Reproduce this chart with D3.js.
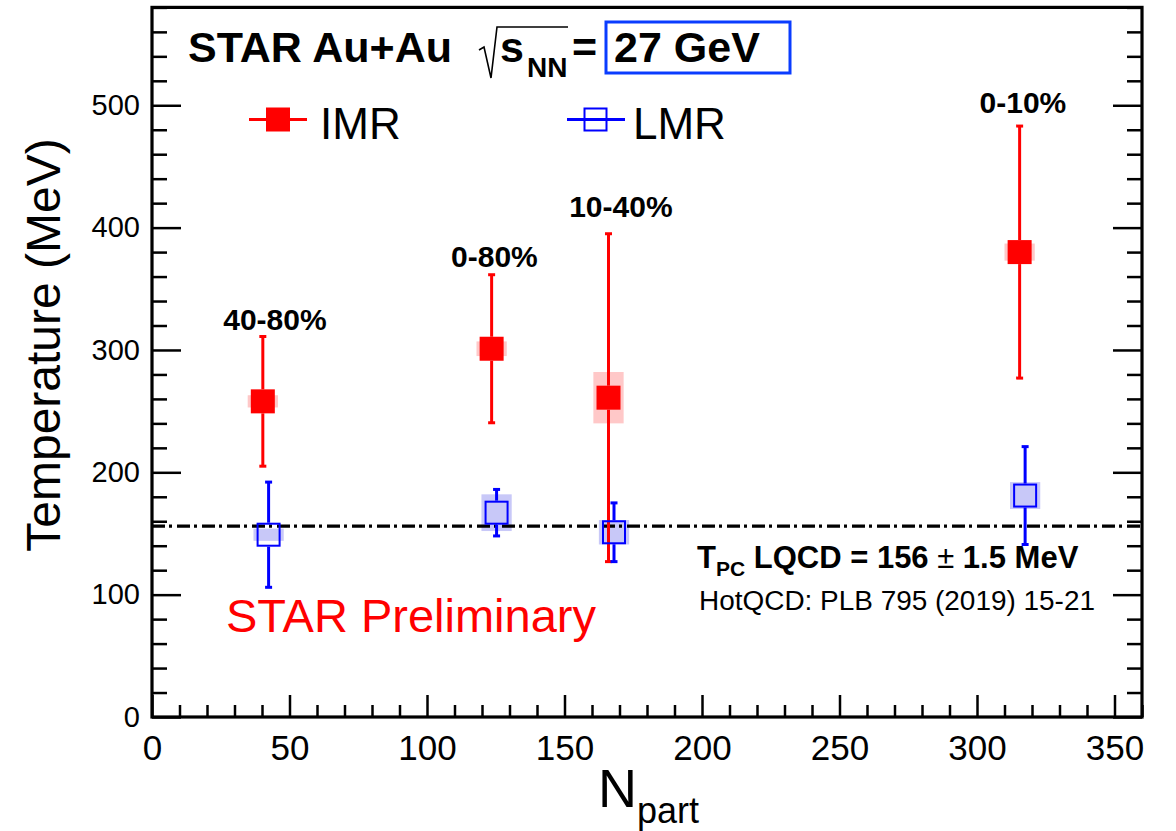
<!DOCTYPE html>
<html>
<head>
<meta charset="utf-8">
<script src="https://cdn.jsdelivr.net/npm/d3@7"></script>
<style>
  html, body { margin: 0; padding: 0; background: #fff; }
  svg { display: block; }
  text { font-family: "Liberation Sans", Arial, Helvetica, sans-serif; }
</style>
</head>
<body>
<div id="chart"></div>
<script>
// ---------------- data ----------------
const centralities = ["40-80%", "0-80%", "10-40%", "0-10%"];
const imrNpart = [40.3, 123.5, 166.0, 315.5];
const imrTemp  = [258, 301, 261, 380];
const imrStat  = [53, 60.5, 134, 103];
const imrSys   = [5, 6, 21, 7];
const lmrNpart = [42.4, 125.3, 168.0, 317.5];
const lmrTemp  = [149, 167, 151, 181];
const lmrStat  = [43, 19, 24, 40];
const lmrSys   = [5, 15, 10, 11];
const sysHalfWidth = 5.5;          // Npart units
const tpcValue = 156;              // LQCD pseudo-critical temperature
const xMajorTicks = [0, 50, 100, 150, 200, 250, 300, 350];
const yMajorTicks = [0, 100, 200, 300, 400, 500];
// label anchors (Npart, MeV) for the centrality classes
const labelNpart = [44.7, 124.5, 170.5, 316.7];
const labelTemp  = [316.3, 367.8, 408.7, 493.7];

// ---------------- layout ----------------
const W = 1176, H = 831;
const pLeft = 152, pRight = 1142, pTop = 7.4, pBottom = 717;
const RED = "#ff0000", BLUE = "#0000ff";
const PINK = "#ffc8c8", LAV = "#c8c8f8";
const MS = 24; // marker size px

const svg = d3.select("#chart").append("svg").attr("width", W).attr("height", H);

const x = d3.scaleLinear().domain([0, 360]).range([pLeft, pRight]);
const y = d3.scaleLinear().domain([0, 580]).range([pBottom, pTop]);

const xMinor = d3.range(0, 361, 10).filter(v => v % 50 !== 0);
const yMinor = d3.range(0, 581, 20).filter(v => v % 100 !== 0);

// ---------- axes ----------
function styleAxis(g) {
  g.select(".domain").remove();
  g.selectAll("line").attr("stroke", "#000").attr("stroke-width", 2.5);
}
// bottom
svg.append("g").attr("transform", `translate(0,${pBottom})`)
  .call(d3.axisBottom(x).tickValues(xMinor).tickSize(-12).tickFormat(""))
  .call(styleAxis);
svg.append("g").attr("transform", `translate(0,${pBottom})`)
  .call(d3.axisBottom(x).tickValues(xMajorTicks).tickSize(-22).tickPadding(18).tickFormat(d3.format("d")))
  .call(styleAxis)
  .call(g => g.selectAll("text").attr("font-size", 35).attr("fill", "#000")
      .attr("font-family", "Liberation Sans, Arial, sans-serif"));
// left
svg.append("g").attr("transform", `translate(${pLeft},0)`)
  .call(d3.axisLeft(y).tickValues(yMinor).tickSize(-15).tickFormat(""))
  .call(styleAxis);
svg.append("g").attr("transform", `translate(${pLeft},0)`)
  .call(d3.axisLeft(y).tickValues(yMajorTicks).tickSize(-29).tickPadding(12).tickFormat(d3.format("d")))
  .call(styleAxis)
  .call(g => g.selectAll("text").attr("font-size", 29).attr("fill", "#000")
      .attr("font-family", "Liberation Sans, Arial, sans-serif"));
// right (ticks only)
svg.append("g").attr("transform", `translate(${pRight},0)`)
  .call(d3.axisRight(y).tickValues(yMinor).tickSize(-15).tickFormat(""))
  .call(styleAxis);
svg.append("g").attr("transform", `translate(${pRight},0)`)
  .call(d3.axisRight(y).tickValues(yMajorTicks).tickSize(-29).tickFormat(""))
  .call(styleAxis);

// ---------- systematic boxes ----------
const imr = imrNpart.map((n, i) => ({n, t: imrTemp[i], e: imrStat[i], s: imrSys[i]}));
const lmr = lmrNpart.map((n, i) => ({n, t: lmrTemp[i], e: lmrStat[i], s: lmrSys[i]}));

svg.append("g").selectAll("rect").data(imr).join("rect")
  .attr("x", d => x(d.n - sysHalfWidth)).attr("width", d => x(d.n + sysHalfWidth) - x(d.n - sysHalfWidth))
  .attr("y", d => y(d.t + d.s)).attr("height", d => y(d.t - d.s) - y(d.t + d.s))
  .attr("fill", PINK);
svg.append("g").selectAll("rect").data(lmr).join("rect")
  .attr("x", d => x(d.n - sysHalfWidth)).attr("width", d => x(d.n + sysHalfWidth) - x(d.n - sysHalfWidth))
  .attr("y", d => y(d.t + d.s)).attr("height", d => y(d.t - d.s) - y(d.t + d.s))
  .attr("fill", LAV);

// ---------- T_pc line ----------
svg.append("line")
  .attr("x1", x(0)).attr("x2", x(360)).attr("y1", y(tpcValue)).attr("y2", y(tpcValue))
  .attr("stroke", "#000").attr("stroke-width", 3.2).attr("stroke-dasharray", "13,4,3,5");

// ---------- error bars ----------
function errorBars(data, color) {
  const g = svg.append("g").attr("stroke", color).attr("stroke-width", 3);
  data.forEach(d => {
    const cx = x(d.n), cy = y(d.t);
    g.append("line").attr("x1", cx).attr("x2", cx).attr("y1", y(d.t + d.e)).attr("y2", cy - MS / 2);
    g.append("line").attr("x1", cx).attr("x2", cx).attr("y1", cy + MS / 2).attr("y2", y(d.t - d.e));
    [d.t + d.e, d.t - d.e].forEach(v => {
      g.append("line").attr("x1", cx - 3.5).attr("x2", cx + 3.5).attr("y1", y(v)).attr("y2", y(v));
    });
  });
}
errorBars(imr, RED);
errorBars(lmr, BLUE);

// ---------- markers ----------
svg.append("g").selectAll("rect").data(imr).join("rect")
  .attr("x", d => x(d.n) - MS / 2).attr("y", d => y(d.t) - MS / 2)
  .attr("width", MS).attr("height", MS).attr("fill", RED);
svg.append("g").selectAll("rect").data(lmr).join("rect")
  .attr("x", d => x(d.n) - MS / 2 + 1).attr("y", d => y(d.t) - MS / 2 + 1)
  .attr("width", MS - 2).attr("height", MS - 2).attr("fill", "none")
  .attr("stroke", BLUE).attr("stroke-width", 2);

// ---------- centrality labels ----------
svg.append("g").selectAll("text").data(centralities).join("text")
  .attr("x", (d, i) => x(labelNpart[i])).attr("y", (d, i) => y(labelTemp[i]))
  .attr("text-anchor", "middle").attr("font-weight", "bold").attr("font-size", 30)
  .text(d => d);

// ---------- frame ----------
svg.append("rect").attr("x", pLeft).attr("y", pTop).attr("width", pRight - pLeft).attr("height", pBottom - pTop)
  .attr("fill", "none").attr("stroke", "#000").attr("stroke-width", 3.2);

// ---------- title ----------
svg.append("text").attr("x", 188).attr("y", 62).attr("font-size", 43).attr("font-weight", "bold")
  .text("STAR Au+Au");
svg.append("path").attr("d", "M479,50 L484,47 L491,78 L497,27 L568,27")
  .attr("fill", "none").attr("stroke", "#000").attr("stroke-width", 1.6);
svg.append("text").attr("x", 500).attr("y", 62).attr("font-size", 43).attr("font-weight", "bold").text("s");
svg.append("text").attr("x", 527).attr("y", 77).attr("font-size", 28).attr("font-weight", "bold").text("NN");
svg.append("text").attr("x", 572).attr("y", 62).attr("font-size", 43).attr("font-weight", "bold").text("=");
svg.append("rect").attr("x", 606).attr("y", 22).attr("width", 184).attr("height", 51)
  .attr("fill", "none").attr("stroke", "#0a3cff").attr("stroke-width", 3);
svg.append("text").attr("x", 614).attr("y", 62).attr("font-size", 43).attr("font-weight", "bold").text("27 GeV");

// ---------- legend ----------
const lg = svg.append("g");
lg.append("line").attr("x1", 249).attr("x2", 307).attr("y1", 119.5).attr("y2", 119.5)
  .attr("stroke", RED).attr("stroke-width", 3);
lg.append("rect").attr("x", 278 - MS / 2).attr("y", 119.5 - MS / 2).attr("width", MS).attr("height", MS).attr("fill", RED);
lg.append("text").attr("x", 320).attr("y", 139).attr("font-size", 44).text("IMR");
lg.append("line").attr("x1", 567).attr("x2", 625).attr("y1", 119.5).attr("y2", 119.5)
  .attr("stroke", BLUE).attr("stroke-width", 3);
lg.append("rect").attr("x", 595.5 - MS / 2 + 1).attr("y", 119.5 - MS / 2 + 1).attr("width", MS - 2).attr("height", MS - 2)
  .attr("fill", "none").attr("stroke", BLUE).attr("stroke-width", 2);
lg.append("text").attr("x", 633).attr("y", 139).attr("font-size", 44).text("LMR");

// ---------- annotations ----------
svg.append("text").attr("x", 226).attr("y", 632).attr("font-size", 47).attr("fill", RED)
  .text("STAR Preliminary");

const tpc = svg.append("text").attr("x", 697).attr("y", 568).attr("font-size", 31).attr("font-weight", "bold");
tpc.append("tspan").text("T");
tpc.append("tspan").attr("font-size", 21).attr("dy", 8).text("PC");
tpc.append("tspan").attr("dy", -8).text(" LQCD = 156 ");
tpc.append("tspan").attr("font-weight", "normal").text("±");
tpc.append("tspan").text(" 1.5 MeV");

svg.append("text").attr("x", 699).attr("y", 610).attr("font-size", 27)
  .attr("font-family", "Lato, 'Open Sans', sans-serif")
  .attr("textLength", 396).attr("lengthAdjust", "spacingAndGlyphs")
  .text("HotQCD: PLB 795 (2019) 15-21");

// ---------- axis titles ----------
svg.append("text").attr("transform", "translate(60,345) rotate(-90)")
  .attr("text-anchor", "middle").attr("font-size", 48).text("Temperature (MeV)");
const xt = svg.append("text").attr("x", 598).attr("y", 807).attr("font-size", 54);
xt.append("tspan").text("N");
xt.append("tspan").attr("font-size", 36).attr("dy", 16).text("part");
</script>
</body>
</html>
